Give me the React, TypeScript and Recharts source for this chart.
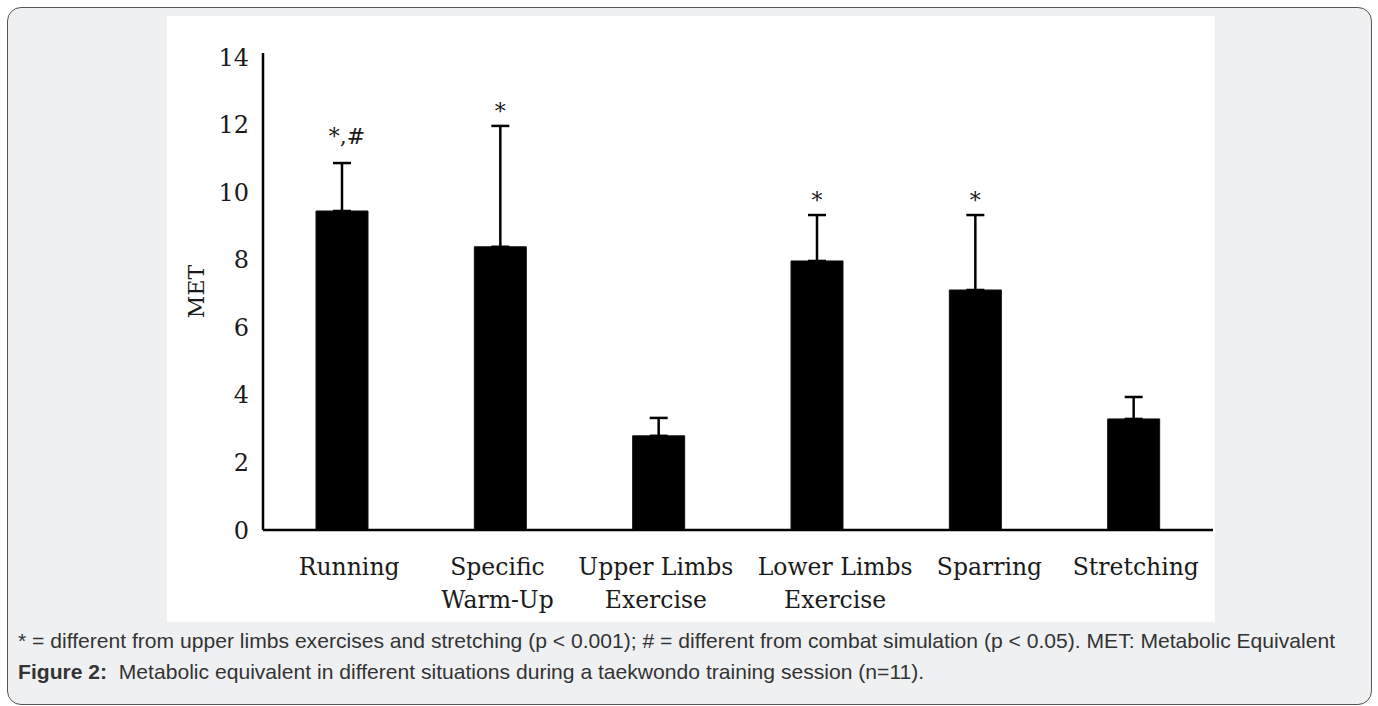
import React from 'react';
import { BarChart, Bar, XAxis, YAxis, ErrorBar, LabelList } from 'recharts';

const categories = ['Running', 'Specific\nWarm-Up', 'Upper Limbs\nExercise', 'Lower Limbs\nExercise', 'Sparring', 'Stretching'];
const metMeans = [9.45, 8.39, 2.79, 7.97, 7.11, 3.29];
const metSD = [1.42, 3.58, 0.53, 1.36, 2.22, 0.65];
const significance = ['*,#', '*', '', '*', '*', ''];
const yTicks = [0, 2, 4, 6, 8, 10, 12, 14];

const data = categories.map((c, i) => ({
  name: c,
  met: metMeans[i],
  err: [0, metSD[i]],
  sig: significance[i],
}));

const SERIF = '"DejaVu Serif", serif';
const SANS = '"Liberation Sans", Arial, sans-serif';

// horizontal nudges of the category labels, as in the original figure
const labelNudge = [7, -3, -3, 18, 14, 2];

const XTick = (props: any) => {
  const { x, y, payload, index } = props;
  const lines = String(payload.value).split('\n');
  const dx = labelNudge[index ?? payload.index ?? 0] ?? 0;
  return (
    <g transform={`translate(${x + dx},${y})`}>
      {lines.map((l: string, i: number) => (
        <text key={i} x={0} y={45 + i * 33} textAnchor="middle" fontFamily={SERIF} fontSize={23.5} fill="#1a1a1a">
          {l}
        </text>
      ))}
    </g>
  );
};

const SigLabel = (props: any) => {
  const { x, y, width, height, value, index } = props;
  if (!value) return null;
  const mean = metMeans[index];
  const sd = metSD[index];
  const errTop = y + height - ((mean + sd) / mean) * height;
  const multi = String(value).length > 1;
  return (
    <text x={x + width / 2 + (multi ? 5 : 0)} y={errTop - (multi ? 19 : 7)} textAnchor="middle" fontFamily={SERIF} fontSize={22} fill="#1a1a1a">
      {value}
    </text>
  );
};

export default function App() {
  return (
    <div style={{ position: 'absolute', left: 0, top: 0, width: 1378, height: 706, overflow: 'hidden' }}>
      <div
        style={{
          position: 'absolute',
          left: 7,
          top: 7,
          width: 1365,
          height: 698,
          border: '1.5px solid #555',
          borderRadius: 14,
          background: '#eff0f2',
          boxSizing: 'border-box',
        }}
      />
      <div style={{ position: 'absolute', left: 167, top: 16, width: 1048, height: 606, background: '#ffffff' }} />
      <div style={{ position: 'absolute', left: 167, top: 16 }}>
        <BarChart width={1048} height={606} data={data} margin={{ top: 37, right: 2, left: 0, bottom: 12 }} barSize={52}>
          <XAxis
            dataKey="name"
            height={80}
            tickLine={false}
            tickSize={0}
            tickMargin={0}
            axisLine={{ stroke: '#000', strokeWidth: 2.5 }}
            tick={<XTick />}
            interval={0}
          />
          <YAxis
            width={96}
            domain={[0, 14.13]}
            ticks={yTicks}
            tickLine={false}
            tickSize={0}
            tickMargin={14}
            axisLine={{ stroke: '#000', strokeWidth: 2.5 }}
            tick={{ fontFamily: SERIF, fontSize: 24, fill: '#1a1a1a' }}
            label={(p: any) => {
              const vb = p.viewBox || {};
              const cx = 29;
              const cy = (vb.y ?? 37) + (vb.height ?? 477) / 2;
              return (
                <text x={cx} y={cy} transform={`rotate(-90, ${cx}, ${cy})`} textAnchor="middle" dominantBaseline="central" fontFamily={SERIF} fontSize={22} fill="#1a1a1a">
                  MET
                </text>
              );
            }}
          />
          <Bar dataKey="met" fill="#000" stroke="#111" strokeWidth={1} isAnimationActive={false}>
            <ErrorBar dataKey="err" direction="y" width={9} stroke="#000" strokeWidth={2.5} />
            <LabelList dataKey="sig" content={<SigLabel />} />
          </Bar>
        </BarChart>
      </div>
      <div style={{ position: 'absolute', left: 18, top: 628, fontFamily: SANS, fontSize: 21.1, lineHeight: '26px', color: '#333', whiteSpace: 'nowrap' }}>
        * = different from upper limbs exercises and stretching (p &lt; 0.001); # = different from combat simulation (p &lt; 0.05). MET: Metabolic Equivalent
      </div>
      <div style={{ position: 'absolute', left: 18, top: 659, fontFamily: SANS, fontSize: 21.1, lineHeight: '26px', color: '#333', whiteSpace: 'nowrap' }}>
        <b>Figure 2:</b>&nbsp; Metabolic equivalent in different situations during a taekwondo training session (n=11).
      </div>
    </div>
  );
}
